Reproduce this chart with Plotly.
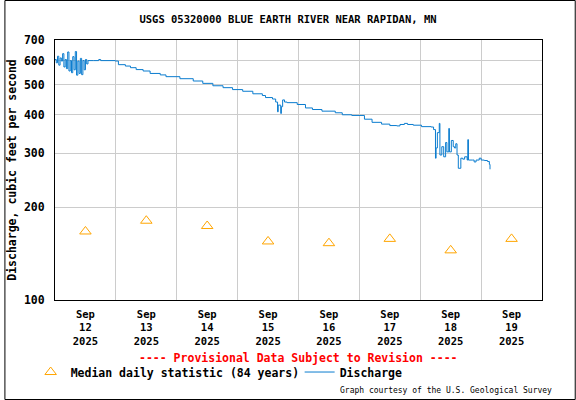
import plotly.graph_objects as go

# ---- data ----
median_dates = ["2025-09-12 12:00", "2025-09-13 12:00", "2025-09-14 12:00", "2025-09-15 12:00",
                "2025-09-16 12:00", "2025-09-17 12:00", "2025-09-18 12:00", "2025-09-19 12:00"]
median_values = [167, 181, 174, 155, 153, 158, 145, 158]

discharge_times = [
    "2025-09-12 00:00", "2025-09-12 00:30", "2025-09-12 01:00", "2025-09-12 01:30", "2025-09-12 02:00",
    "2025-09-12 02:30", "2025-09-12 03:00", "2025-09-12 03:30", "2025-09-12 04:00", "2025-09-12 04:30",
    "2025-09-12 05:00", "2025-09-12 05:30", "2025-09-12 06:00", "2025-09-12 06:30", "2025-09-12 07:00",
    "2025-09-12 07:30", "2025-09-12 08:00", "2025-09-12 08:30", "2025-09-12 09:00", "2025-09-12 09:30",
    "2025-09-12 10:00", "2025-09-12 10:30", "2025-09-12 11:00", "2025-09-12 11:30", "2025-09-12 12:00",
    "2025-09-12 12:30", "2025-09-12 13:00", "2025-09-12 15:15", "2025-09-12 17:15", "2025-09-12 18:00",
    "2025-09-12 23:45", "2025-09-13 01:00", "2025-09-13 03:45", "2025-09-13 05:45", "2025-09-13 08:00",
    "2025-09-13 10:45", "2025-09-13 13:30", "2025-09-13 17:30", "2025-09-13 19:45", "2025-09-14 01:15",
    "2025-09-14 06:30", "2025-09-14 10:15", "2025-09-14 14:15", "2025-09-14 18:15", "2025-09-14 22:00",
    "2025-09-15 02:00", "2025-09-15 06:00", "2025-09-15 09:45", "2025-09-15 11:00", "2025-09-15 13:45",
    "2025-09-15 15:00", "2025-09-15 15:45", "2025-09-15 16:00", "2025-09-15 17:00", "2025-09-15 17:15",
    "2025-09-15 17:45", "2025-09-15 18:30", "2025-09-15 19:30", "2025-09-15 23:30", "2025-09-16 02:45",
    "2025-09-16 05:30", "2025-09-16 09:15", "2025-09-16 14:30", "2025-09-16 17:15", "2025-09-16 21:00",
    "2025-09-17 02:00", "2025-09-17 05:00", "2025-09-17 08:45", "2025-09-17 12:00", "2025-09-17 14:45",
    "2025-09-17 16:00", "2025-09-17 17:45", "2025-09-17 19:00", "2025-09-17 21:15", "2025-09-18 00:30",
    "2025-09-18 04:15", "2025-09-18 05:15", "2025-09-18 06:00", "2025-09-18 06:15", "2025-09-18 06:45",
    "2025-09-18 07:30", "2025-09-18 07:45", "2025-09-18 08:30", "2025-09-18 09:15", "2025-09-18 10:00",
    "2025-09-18 10:30", "2025-09-18 11:15", "2025-09-18 11:30", "2025-09-18 12:15", "2025-09-18 13:00",
    "2025-09-18 13:30", "2025-09-18 14:00", "2025-09-18 14:30", "2025-09-18 15:00", "2025-09-18 16:00",
    "2025-09-18 16:45", "2025-09-18 17:30", "2025-09-18 18:30", "2025-09-18 18:45", "2025-09-18 19:00",
    "2025-09-18 20:30", "2025-09-18 21:15", "2025-09-18 22:00", "2025-09-18 23:15", "2025-09-19 00:00",
    "2025-09-19 01:15", "2025-09-19 02:30", "2025-09-19 03:15", "2025-09-19 03:30",
]
discharge_values = [
    605, 590, 620, 580, 612,
    598, 632, 572, 605, 565,
    640, 555, 600, 548, 618,
    560, 642, 538, 598, 545,
    610, 540, 600, 560, 605,
    585, 600, 600, 605, 600,
    598, 582, 576, 569, 561,
    555, 545, 539, 532, 524,
    515, 506, 497, 490, 483,
    477, 468, 462, 455, 450,
    440, 409, 430, 404, 425,
    447, 440, 438, 432, 421,
    416, 411, 406, 400, 398,
    387, 378, 373, 369, 368,
    372, 375, 372, 370, 366,
    365, 358, 289, 312, 350,
    375, 296, 315, 292, 325,
    303, 361, 303, 330, 315,
    312, 322, 296, 268, 289,
    287, 292, 285, 332, 285,
    285, 281, 285, 289, 285,
    284, 282, 276, 266,
]

x_tick_vals = median_dates
x_tick_text = ["Sep<br>12<br>2025", "Sep<br>13<br>2025", "Sep<br>14<br>2025", "Sep<br>15<br>2025",
               "Sep<br>16<br>2025", "Sep<br>17<br>2025", "Sep<br>18<br>2025", "Sep<br>19<br>2025"]
y_tick_vals = [100, 200, 300, 400, 500, 600, 700]

FONT = "DejaVu Sans Mono"

fig = go.Figure()
fig.add_trace(go.Scatter(
    x=median_dates, y=median_values, mode="markers",
    name="Median daily statistic (84 years)",
    marker=dict(symbol="triangle-up-open", size=10, color="#FFA500", line=dict(width=1, color="#FFA500")),
))
fig.add_trace(go.Scatter(
    x=discharge_times, y=discharge_values, mode="lines", line_shape="hv",
    name="Discharge", line=dict(color="#0A7CCF", width=1),
))

fig.update_layout(
    width=576, height=400,
    margin=dict(l=51, r=34, t=40, b=100),
    paper_bgcolor="white", plot_bgcolor="white",
    font=dict(family=FONT, size=11.5, color="black", weight="bold"),
    title=dict(text="USGS 05320000 BLUE EARTH RIVER NEAR RAPIDAN, MN",
               x=0.5, xref="container", xanchor="center",
               y=1 - 19 / 400, yref="container", yanchor="middle",
               font=dict(family=FONT, size=10.5, weight="bold")),
    showlegend=True,
    legend=dict(orientation="h", x=-0.05, xanchor="left", y=-0.277, yanchor="middle",
                font=dict(family=FONT, size=11.5, weight="bold"),
                bgcolor="rgba(0,0,0,0)", itemwidth=30, tracegroupgap=0,
                entrywidth=224, entrywidthmode="pixels"),
)

fig.update_xaxes(
    type="date", range=["2025-09-12 00:00", "2025-09-20 00:00"],
    tickmode="array", tickvals=x_tick_vals, ticktext=x_tick_text,
    showgrid=False, ticks="", ticklabelstandoff=4,
    showline=True, mirror=True, linecolor="black", linewidth=1,
    minor=dict(tick0="2025-09-12", dtick=86400000, showgrid=True, gridcolor="#CCCCCC", gridwidth=1, ticks=""),
    tickfont=dict(family=FONT, size=10.5, weight="bold"),
)
fig.update_yaxes(
    type="log", range=[2, 2.845098],
    tickmode="array", tickvals=y_tick_vals, ticktext=[str(v) for v in y_tick_vals],
    showgrid=True, gridcolor="#CCCCCC", gridwidth=1, ticks="", ticklabelstandoff=7,
    showline=True, mirror=True, linecolor="black", linewidth=1,
    tickfont=dict(family=FONT, size=11.5, weight="bold"),
    title=dict(text="Discharge, cubic feet per second", standoff=4,
               font=dict(family=FONT, size=11.5, weight="bold")),
)

fig.add_annotation(text="---- Provisional Data Subject to Revision ----",
                   xref="paper", yref="paper", x=0.5, y=(300 - 358) / 260,
                   xanchor="center", yanchor="middle", showarrow=False,
                   font=dict(family=FONT, size=11.5, color="#FF0000", weight="bold"))
fig.add_annotation(text="Graph courtesy of the U.S. Geological Survey",
                   xref="paper", yref="paper", x=(554 - 51) / 491, y=(300 - 390) / 260,
                   xanchor="right", yanchor="middle", showarrow=False,
                   font=dict(family=FONT, size=8, color="black", weight="normal"))
# outer frame around whole graphic
fig.add_shape(type="rect", xref="paper", yref="paper",
              x0=(0.5 - 51) / 491, x1=(575.5 - 51) / 491,
              y0=(300 - 399.5) / 260, y1=(300 - 0.5) / 260,
              line=dict(color="black", width=1))

fig.write_html("out.html", config={"displayModeBar": False},
               post_script="document.body.style.margin='0';")
